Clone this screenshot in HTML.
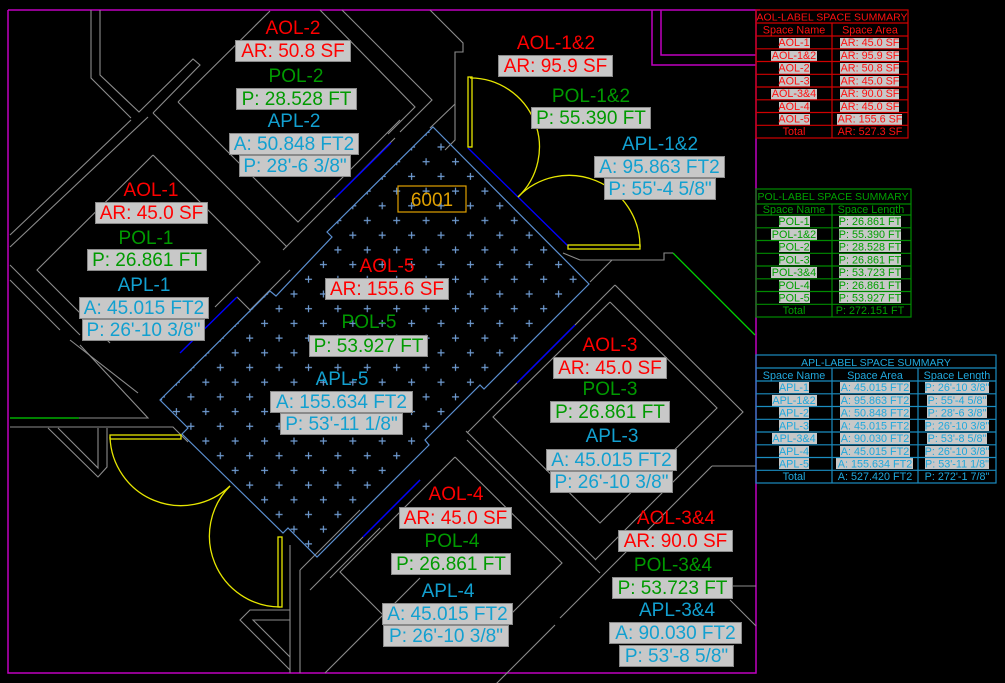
<!DOCTYPE html>
<html><head><meta charset="utf-8"><style>
html,body{margin:0;padding:0;background:#000;}
body{width:1005px;height:683px;position:relative;overflow:hidden;font-family:"Liberation Sans",sans-serif;}
svg{position:absolute;left:0;top:0;}
.t{position:absolute;font-size:19px;line-height:22px;text-align:center;white-space:nowrap;transform:translateX(-50%);}
.b{position:absolute;font-size:19px;line-height:22px;height:22px;text-align:center;white-space:nowrap;background:#c8c8c8;box-sizing:border-box;border:1px solid #8a8a8a;}
.r{color:#ff0000}.g{color:#009a00}.c{color:#12a0d0}
</style></head><body>
<svg width="1005" height="683" viewBox="0 0 1005 683">
<defs>
<pattern id="pp" x="0" y="0" width="29.4" height="29.4" patternUnits="userSpaceOnUse">
<path d="M11,14.7h7M14.5,11.2v7M-3.5,0h7M0,-3.5v7M25.9,0h7M29.4,-3.5v7M-3.5,29.4h7M0,25.9v7M25.9,29.4h7M29.4,25.9v7" stroke="#6f9bd1" stroke-width="1.2"/>
</pattern>
<clipPath id="rc"><polygon points="433,127 589,284 484,389 480,385 425,440 429,445 317,557 288,528 283,533 182,434 188,428 160,400 270,291 276,296 332,237 327,232"/></clipPath>
</defs>
<g stroke="#c000c0" stroke-width="1.5" fill="none">
<polyline points="8,10 760,10"/>
<polyline points="8,10 8,673 756,673 756,10"/>
<polyline points="652,10 652,65 756,65"/>
<polyline points="661,10 661,55 756,55"/>
</g>
<g stroke="#8c8c8c" stroke-width="1.1" fill="none">
<polyline points="91,10 91,78 131,118"/>
<polyline points="100,10 100,75 139,112 193,59 200,65 153,113"/>
<polyline points="178,102 270,11"/>
<polyline points="178,102 298,222 400,120"/>
<polyline points="320,10 415,107 388,134"/>
<polyline points="342,10 432,100 400,132"/>
<polyline points="153,113 287,247"/>
<polyline points="148,117 10,247"/>
<polyline points="131,120 10,235"/>
<polyline points="153,155 260,262 215,307"/>
<polyline points="153,155 37,270 110,343"/>
<polyline points="10,265 80,335"/>
<polyline points="10,280 60,330"/>
<polyline points="283,250 395,138"/>
<polyline points="237,297 250,310 290,270"/>
<polyline points="430,10 463,43 463,52 455,52 455,140 445,150"/>
<polyline points="455,104 430,128"/>
<polyline points="563,253 580,260 664,260 664,253 673,253"/>
<polyline points="612,260 590,282"/>
<polyline points="610,302 717,408 600,523 493,417 610,302"/>
<polyline points="615,285 743,412 595,560"/>
<polyline points="615,285 510,390"/>
<polyline points="575,325 510,390 467,433"/>
<polyline points="466,431 596,560"/>
<polyline points="455,457 562,563 500,625"/>
<polyline points="455,457 340,572 410,642"/>
<polyline points="467,440 600,573"/>
<polyline points="712,466 756,466"/>
<polyline points="712,466 560,618"/>
<polyline points="733,586 756,586"/>
<polyline points="555,625 470,710"/>
<polyline points="420,480 310,590"/>
<polyline points="380,528 330,578"/>
<polyline points="10,418 148,418 80,345"/>
<polyline points="70,340 138,393"/>
<polyline points="10,427 173,427 188,442"/>
<polyline points="48,428 98,477 107,467 107,428"/>
<polyline points="58,428 98,468 98,428"/>
<polyline points="290,545 290,673"/>
<polyline points="300,570 300,673"/>
<polyline points="300,570 360,510"/>
<polyline points="290,610 250,610 240,620 290,670"/>
<polyline points="290,620 253,620 290,657"/>
<polyline points="325,673 420,578"/>
<polyline points="730,600 756,626"/>
</g>
<rect x="150" y="120" width="450" height="450" fill="url(#pp)" clip-path="url(#rc)"/>
<polygon points="433,127 589,284 484,389 480,385 425,440 429,445 317,557 288,528 283,533 182,434 188,428 160,400 270,291 276,296 332,237 327,232" fill="none" stroke="#5b8fd0" stroke-width="1.2"/>
<g stroke="#0000ff" stroke-width="1.4">
<line x1="468" y1="148" x2="568" y2="246"/>
<line x1="335" y1="198" x2="391" y2="143"/>
<line x1="180" y1="353" x2="237" y2="297"/>
<line x1="517" y1="383" x2="575" y2="325"/>
<line x1="363" y1="537" x2="420" y2="480"/>
</g>
<rect x="398" y="186" width="68" height="26" fill="none" stroke="#e0a000" stroke-width="1.2"/>
<text x="432" y="206" font-family="Liberation Sans" font-size="19" fill="#e0a000" text-anchor="middle">6001</text>
<g stroke="#e6e600" stroke-width="1.3" fill="none">
<rect x="468" y="77" width="4" height="70"/>
<path d="M470,78 A69,69 0 0 1 518,197"/>
<rect x="568" y="245" width="72" height="4"/>
<path d="M640,247 A71,71 0 0 0 518,197"/>
<rect x="110" y="435" width="71" height="4"/>
<path d="M110,437 A71,71 0 0 0 230,486"/>
<rect x="278" y="537" width="4" height="70"/>
<path d="M280,607 A71,71 0 0 1 230,486"/>
</g>
<g stroke="#00d000" stroke-width="1.3">
<line x1="10" y1="418" x2="79" y2="418"/>
<line x1="673" y1="253" x2="755" y2="335"/>
</g>
<g font-family="Liberation Sans" font-size="10.8" text-anchor="middle">
<g fill="#c8c8c8">
<rect x="779" y="38" width="31" height="11"/><rect x="771" y="51" width="46" height="11"/><rect x="779" y="63" width="31" height="11"/><rect x="779" y="76" width="31" height="11"/><rect x="771" y="89" width="46" height="11"/><rect x="779" y="102" width="31" height="11"/><rect x="779" y="114" width="31" height="11"/>
<rect x="840" y="38" width="59" height="11"/><rect x="840" y="51" width="59" height="11"/><rect x="840" y="63" width="59" height="11"/><rect x="840" y="76" width="59" height="11"/><rect x="840" y="89" width="59" height="11"/><rect x="840" y="102" width="59" height="11"/><rect x="837" y="114" width="65" height="11"/>
</g>
<g stroke="#d00000" fill="none" stroke-width="1.2">
<rect x="756" y="10" width="152" height="128"/>
<path d="M756,23H908M756,36H908M756,48.8H908M756,61.5H908M756,74.3H908M756,87H908M756,99.8H908M756,112.5H908M756,125.3H908M832,23V138"/>
</g>
<g fill="#ff1010">
<text x="832" y="20.5" font-size="10.5">AOL-LABEL SPACE SUMMARY</text>
<text x="794" y="33.5">Space Name</text><text x="870" y="33.5">Space Area</text>
<text x="794" y="46">AOL-1</text><text x="794" y="59">AOL-1&amp;2</text><text x="794" y="71.5">AOL-2</text><text x="794" y="84.5">AOL-3</text><text x="794" y="97">AOL-3&amp;4</text><text x="794" y="110">AOL-4</text><text x="794" y="122.5">AOL-5</text><text x="794" y="135">Total</text>
<text x="870" y="46">AR: 45.0 SF</text><text x="870" y="59">AR: 95.9 SF</text><text x="870" y="71.5">AR: 50.8 SF</text><text x="870" y="84.5">AR: 45.0 SF</text><text x="870" y="97">AR: 90.0 SF</text><text x="870" y="110">AR: 45.0 SF</text><text x="870" y="122.5">AR: 155.6 SF</text><text x="870" y="135">AR: 527.3 SF</text>
</g>
<g fill="#c8c8c8">
<rect x="779" y="216" width="31" height="11"/><rect x="771" y="229" width="46" height="11"/><rect x="779" y="241" width="31" height="11"/><rect x="779" y="254" width="31" height="11"/><rect x="771" y="267" width="46" height="11"/><rect x="779" y="280" width="31" height="11"/><rect x="779" y="292" width="31" height="11"/>
<rect x="839" y="216" width="62" height="11"/><rect x="839" y="229" width="62" height="11"/><rect x="839" y="241" width="62" height="11"/><rect x="839" y="254" width="62" height="11"/><rect x="839" y="267" width="62" height="11"/><rect x="839" y="280" width="62" height="11"/><rect x="839" y="292" width="62" height="11"/>
</g>
<g stroke="#008a00" fill="none" stroke-width="1.2">
<rect x="756" y="189" width="155" height="128"/>
<path d="M756,204H911M756,215H911M756,227.8H911M756,240.5H911M756,253.3H911M756,266H911M756,278.8H911M756,291.5H911M756,304.3H911M832,204V317"/>
</g>
<g fill="#00a000">
<text x="833" y="200" font-size="10.5">POL-LABEL SPACE SUMMARY</text>
<text x="794" y="213">Space Name</text><text x="871" y="213">Space Length</text>
<text x="794" y="225">POL-1</text><text x="794" y="238">POL-1&amp;2</text><text x="794" y="250.5">POL-2</text><text x="794" y="263.5">POL-3</text><text x="794" y="276">POL-3&amp;4</text><text x="794" y="289">POL-4</text><text x="794" y="301.5">POL-5</text><text x="794" y="314">Total</text>
<text x="870" y="225">P: 26.861 FT</text><text x="870" y="238">P: 55.390 FT</text><text x="870" y="250.5">P: 28.528 FT</text><text x="870" y="263.5">P: 26.861 FT</text><text x="870" y="276">P: 53.723 FT</text><text x="870" y="289">P: 26.861 FT</text><text x="870" y="301.5">P: 53.927 FT</text><text x="870" y="314">P: 272.151 FT</text>
</g>
<g fill="#c8c8c8">
<rect x="779" y="382" width="30" height="11"/><rect x="772" y="395" width="45" height="11"/><rect x="779" y="407" width="30" height="11"/><rect x="779" y="420" width="30" height="11"/><rect x="772" y="433" width="45" height="11"/><rect x="779" y="446" width="30" height="11"/><rect x="779" y="458" width="30" height="11"/>
<rect x="840" y="382" width="70" height="11"/><rect x="840" y="395" width="70" height="11"/><rect x="840" y="407" width="70" height="11"/><rect x="840" y="420" width="70" height="11"/><rect x="840" y="433" width="70" height="11"/><rect x="840" y="446" width="70" height="11"/><rect x="836" y="458" width="77" height="11"/>
<rect x="925" y="382" width="64" height="11"/><rect x="927" y="395" width="60" height="11"/><rect x="927" y="407" width="60" height="11"/><rect x="925" y="420" width="64" height="11"/><rect x="927" y="433" width="60" height="11"/><rect x="925" y="446" width="64" height="11"/><rect x="925" y="458" width="64" height="11"/>
</g>
<g stroke="#1a8cc0" fill="none" stroke-width="1.2">
<rect x="756" y="355" width="240" height="128"/>
<path d="M756,368H996M756,381H996M756,393.8H996M756,406.5H996M756,419.3H996M756,432H996M756,444.8H996M756,457.5H996M756,470.3H996M832,368V483M918,368V483"/>
</g>
<g fill="#20a8dc">
<text x="876" y="366" font-size="10.5">APL-LABEL SPACE SUMMARY</text>
<text x="794" y="379">Space Name</text><text x="875" y="379">Space Area</text><text x="957" y="379">Space Length</text>
<text x="794" y="391">APL-1</text><text x="794" y="404">APL-1&amp;2</text><text x="794" y="416.5">APL-2</text><text x="794" y="429.5">APL-3</text><text x="794" y="442">APL-3&amp;4</text><text x="794" y="455">APL-4</text><text x="794" y="467.5">APL-5</text><text x="794" y="480">Total</text>
<text x="875" y="391">A: 45.015 FT2</text><text x="875" y="404">A: 95.863 FT2</text><text x="875" y="416.5">A: 50.848 FT2</text><text x="875" y="429.5">A: 45.015 FT2</text><text x="875" y="442">A: 90.030 FT2</text><text x="875" y="455">A: 45.015 FT2</text><text x="875" y="467.5">A: 155.634 FT2</text><text x="875" y="480">A: 527.420 FT2</text>
<text x="957" y="391">P: 26'-10 3/8"</text><text x="957" y="404">P: 55'-4 5/8"</text><text x="957" y="416.5">P: 28'-6 3/8"</text><text x="957" y="429.5">P: 26'-10 3/8"</text><text x="957" y="442">P: 53'-8 5/8"</text><text x="957" y="455">P: 26'-10 3/8"</text><text x="957" y="467.5">P: 53'-11 1/8"</text><text x="957" y="480">P: 272'-1 7/8"</text>
</g>
</g>
</svg>

<div class="t r" style="left:293px;top:18px">AOL-2</div>
<div class="b r" style="left:235px;top:40px;width:116px">AR: 50.8 SF</div>
<div class="t g" style="left:296px;top:66px">POL-2</div>
<div class="b g" style="left:236px;top:88px;width:121px">P: 28.528 FT</div>
<div class="t c" style="left:294px;top:111px">APL-2</div>
<div class="b c" style="left:229px;top:133px;width:130px">A: 50.848 FT2</div>
<div class="b c" style="left:239px;top:155px;width:112px">P: 28'-6 3/8"</div>
<div class="t r" style="left:556px;top:33px">AOL-1&amp;2</div>
<div class="b r" style="left:498px;top:55px;width:115px">AR: 95.9 SF</div>
<div class="t g" style="left:591px;top:86px">POL-1&amp;2</div>
<div class="b g" style="left:531px;top:107px;width:120px">P: 55.390 FT</div>
<div class="t c" style="left:660px;top:134px">APL-1&amp;2</div>
<div class="b c" style="left:594px;top:156px;width:131px">A: 95.863 FT2</div>
<div class="b c" style="left:604px;top:178px;width:112px">P: 55'-4 5/8"</div>
<div class="t r" style="left:151px;top:180px">AOL-1</div>
<div class="b r" style="left:95px;top:202px;width:113px">AR: 45.0 SF</div>
<div class="t g" style="left:146px;top:228px">POL-1</div>
<div class="b g" style="left:87px;top:249px;width:120px">P: 26.861 FT</div>
<div class="t c" style="left:144px;top:275px">APL-1</div>
<div class="b c" style="left:79px;top:297px;width:130px">A: 45.015 FT2</div>
<div class="b c" style="left:82px;top:319px;width:123px">P: 26'-10 3/8"</div>
<div class="t r" style="left:387px;top:256px">AOL-5</div>
<div class="b r" style="left:325px;top:278px;width:124px">AR: 155.6 SF</div>
<div class="t g" style="left:369px;top:312px">POL-5</div>
<div class="b g" style="left:309px;top:335px;width:119px">P: 53.927 FT</div>
<div class="t c" style="left:342px;top:369px">APL-5</div>
<div class="b c" style="left:270px;top:391px;width:143px">A: 155.634 FT2</div>
<div class="b c" style="left:280px;top:413px;width:123px">P: 53'-11 1/8"</div>
<div class="t r" style="left:610px;top:335px">AOL-3</div>
<div class="b r" style="left:553px;top:357px;width:114px">AR: 45.0 SF</div>
<div class="t g" style="left:610px;top:379px">POL-3</div>
<div class="b g" style="left:550px;top:401px;width:120px">P: 26.861 FT</div>
<div class="t c" style="left:612px;top:426px">APL-3</div>
<div class="b c" style="left:546px;top:449px;width:131px">A: 45.015 FT2</div>
<div class="b c" style="left:550px;top:471px;width:123px">P: 26'-10 3/8"</div>
<div class="t r" style="left:456px;top:484px">AOL-4</div>
<div class="b r" style="left:399px;top:507px;width:113px">AR: 45.0 SF</div>
<div class="t g" style="left:452px;top:531px">POL-4</div>
<div class="b g" style="left:391px;top:553px;width:120px">P: 26.861 FT</div>
<div class="t c" style="left:448px;top:581px">APL-4</div>
<div class="b c" style="left:382px;top:603px;width:131px">A: 45.015 FT2</div>
<div class="b c" style="left:383px;top:625px;width:126px">P: 26'-10 3/8"</div>
<div class="t r" style="left:676px;top:508px">AOL-3&amp;4</div>
<div class="b r" style="left:618px;top:530px;width:115px">AR: 90.0 SF</div>
<div class="t g" style="left:673px;top:555px">POL-3&amp;4</div>
<div class="b g" style="left:612px;top:577px;width:121px">P: 53.723 FT</div>
<div class="t c" style="left:677px;top:600px">APL-3&amp;4</div>
<div class="b c" style="left:609px;top:622px;width:133px">A: 90.030 FT2</div>
<div class="b c" style="left:619px;top:645px;width:115px">P: 53'-8 5/8"</div>
</body></html>
